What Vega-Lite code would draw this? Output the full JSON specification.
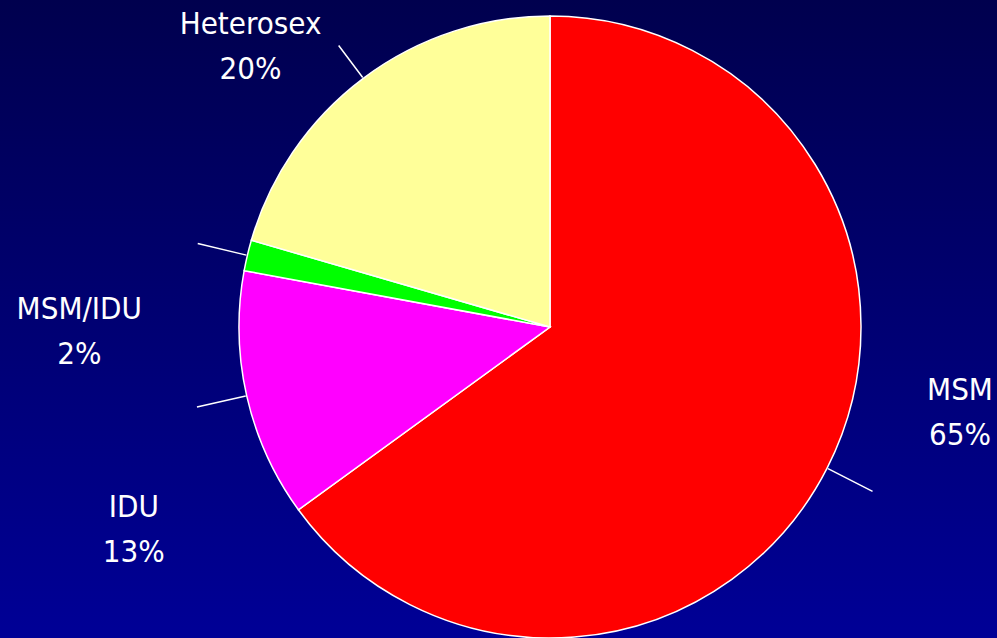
{
  "$schema": "https://vega.github.io/schema/vega-lite/v6.json",
  "width": 1100,
  "height": 654,
  "autosize": {"type": "none"},
  "padding": {"left": 0, "top": 0, "right": -103, "bottom": -16},
  "config": {"view": {"stroke": null}},
  "data": {
    "values": [
      {"cat": "MSM", "value": 65.0, "rank": 1, "label": "MSM|65%"},
      {"cat": "IDU", "value": 12.9, "rank": 2, "label": "IDU|13%"},
      {"cat": "MSM/IDU", "value": 1.6, "rank": 3, "label": "MSM/IDU|2%"},
      {"cat": "Heterosex", "value": 20.5, "rank": 4, "label": "Heterosex|20%"}
    ]
  },
  "transform": [
    {"stack": "value", "groupby": [], "sort": [{"field": "rank", "order": "ascending"}], "as": ["v0", "v1"]}
  ],
  "layer": [
    {
      "data": {"values": [{"bg": 1}]},
      "transform": [],
      "mark": {
        "type": "rect",
        "fill": {
          "gradient": "linear",
          "x1": 0, "y1": 0, "x2": 0, "y2": 1,
          "stops": [
            {"offset": 0, "color": "#00004e"},
            {"offset": 1, "color": "#000098"}
          ]
        }
      },
      "encoding": {}
    },
    {
      "mark": {"type": "arc", "radius": 311, "stroke": "#ffffff", "strokeWidth": 1.5},
      "encoding": {
        "theta": {"field": "v0", "type": "quantitative", "stack": null, "scale": {"domain": [0, 100]}},
        "theta2": {"field": "v1"},
        "color": {
          "field": "cat",
          "type": "nominal",
          "scale": {"domain": ["MSM", "IDU", "MSM/IDU", "Heterosex"], "range": ["#ff0000", "#ff00ff", "#00ff00", "#ffff99"]},
          "legend": null
        }
      }
    },
    {
      "mark": {
        "type": "arc",
        "filled": false,
        "stroke": "#ffffff",
        "strokeWidth": 1.5,
        "radius": {"expr": "datum.cat == 'Heterosex' ? 352 : 362"},
        "radius2": 312,
        "thetaOffset": {"expr": "(datum.v1 - datum.v0) * PI / 100"},
        "theta2Offset": {"expr": "-(datum.v1 - datum.v0) * PI / 100"}
      },
      "encoding": {
        "theta": {"field": "v0", "type": "quantitative", "stack": null, "scale": {"domain": [0, 100]}},
        "theta2": {"field": "v1"}
      }
    },
    {
      "mark": {
        "type": "text",
        "font": "'Liberation Sans Narrow', 'DejaVu Sans Condensed', 'Roboto Condensed', 'Arial Narrow', 'Liberation Sans', sans-serif",
        "fontSize": 31,
        "fill": "#ffffff",
        "lineBreak": "|",
        "lineHeight": 45,
        "align": "center",
        "baseline": "middle",
        "radius": {"expr": "datum.cat == 'MSM' ? 415 : datum.cat == 'IDU' ? 454 : datum.cat == 'MSM/IDU' ? 471 : 425"},
        "thetaOffset": {"expr": "(datum.v1 - datum.v0) * PI / 100 + (datum.cat == 'MSM' ? -18.1 : datum.cat == 'IDU' ? -10.75 : datum.cat == 'MSM/IDU' ? -11.3 : -7.9) * PI / 180"}
      },
      "encoding": {
        "theta": {"field": "v0", "type": "quantitative", "stack": null, "scale": {"domain": [0, 100]}},
        "text": {"field": "label", "type": "nominal"}
      }
    }
  ]
}
